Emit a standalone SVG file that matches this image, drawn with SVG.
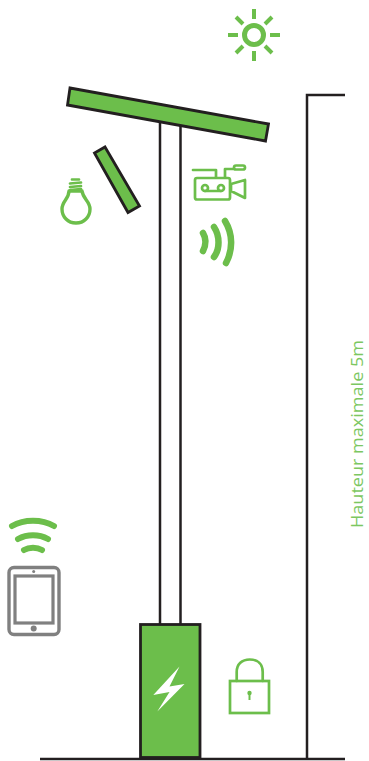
<svg xmlns="http://www.w3.org/2000/svg" width="369" height="761" viewBox="0 0 369 761">
<style>
.k{fill:none;stroke:#231f20;stroke-width:2.500}
.p{fill:#6cbe4b;stroke:#231f20;stroke-width:2.800;stroke-linejoin:miter}
.g{fill:none;stroke:#6cbe4b;stroke-width:2.700;stroke-linecap:round;stroke-linejoin:round}
.w{fill:none;stroke:#6cbe4b;stroke-linecap:round}
.s{fill:none;stroke:#6cbe4b;stroke-width:4}
.t{fill:none;stroke:#808080;stroke-width:3.200}
</style>
<rect width="369" height="761" fill="#fff"/>
<g id="connectors">
<path class="k" d="M160 122V625M180.500 122V625"/>
<path class="k" d="M40 759H345"/>
<path class="k" d="M307 759V95H345"/>
</g>
<g id="sun">
<circle class="s" cx="254" cy="35" r="9.500" style="stroke-width:5"/>
<path class="s" d="M254 9V19M254 51V61M228 35H238M270 35H280M236 17L243 24M272 17L265 24M236 53L243 46M272 53L265 46"/>
</g>
<g id="main-panel"><path class="p" d="M70 88L268.500 124L265.500 141L67.500 105Z"/></g>
<g id="side-panel"><path class="p" d="M105 147L139.500 206L128 212.500L94.500 153Z"/></g>
<g id="bulb">
<path class="g" style="stroke-width:3.400" d="M69 191H82C83 199 90 201 90 209C90 217 84 223 76 223C68 223 62 217 62 209C62 201 69 199 69 191Z"/>
<path class="g" d="M70 183.500L81 182.500M70 187L81 186M70 190L81 189M72 179.500H79"/>
</g>
<g id="camera">
<rect class="g" x="195" y="178" width="35" height="21.500" rx="2"/>
<circle class="g" cx="205" cy="188" r="3"/>
<circle class="g" cx="221" cy="188" r="3"/>
<path class="g" d="M205 191H221M193 170H216V177M225 177V169H234M231 184L245 180V198L231 191Z"/>
<rect class="g" x="234" y="165.500" width="11" height="4" rx="2"/>
</g>
<g id="signal">
<path class="w" style="stroke-width:6.500" d="M203 233C206 238 206 245 203 251"/>
<path class="w" style="stroke-width:6.500" d="M214 227C220 236 220 249 214 257"/>
<path class="w" style="stroke-width:6.500" d="M225 221C233 234 233 250 226 263"/>
</g>
<g id="wifi">
<path class="w" style="stroke-width:6" d="M12 526C24 519 42 519 54 526"/>
<path class="w" style="stroke-width:6" d="M18 539C27 534 39 534 48 539"/>
<path class="w" style="stroke-width:6" d="M24 550C29 547 37 547 42 550"/>
</g>
<g id="tablet">
<rect class="t" x="9" y="567.500" width="50" height="67" rx="5" style="stroke-width:3.400"/>
<rect class="t" x="15" y="576" width="38" height="47"/>
<circle cx="33.700" cy="571.500" r="1.500" fill="#808080"/>
<circle cx="33.700" cy="628.500" r="3" fill="#808080"/>
</g>
<g id="battery">
<rect class="p" x="140.500" y="624.500" width="59.500" height="133"/>
<path fill="#fff" d="M179.500 666.500L153.300 695L169.500 692L157.300 711.500L184.500 684L169.500 686.500Z"/>
</g>
<g id="lock">
<rect class="g" x="230" y="681" width="39" height="32" style="stroke-linejoin:miter;stroke-linecap:butt"/>
<path class="g" d="M236.700 681V672C236.700 664 242 659.500 249.700 659.500C257.500 659.500 262.700 664 262.700 672V681"/>
<path d="M249.500 692V700" stroke="#6cbe4b" stroke-width="2" fill="none"/>
<circle cx="249.500" cy="693" r="2.200" fill="#6cbe4b"/>
</g>
<g id="height-label">
<text transform="translate(363 528) rotate(-90)" font-family="'Open Sans', sans-serif" font-size="17" font-weight="400" fill="#7cc761" textLength="188" lengthAdjust="spacingAndGlyphs">Hauteur maximale 5m</text>
</g>
</svg>
